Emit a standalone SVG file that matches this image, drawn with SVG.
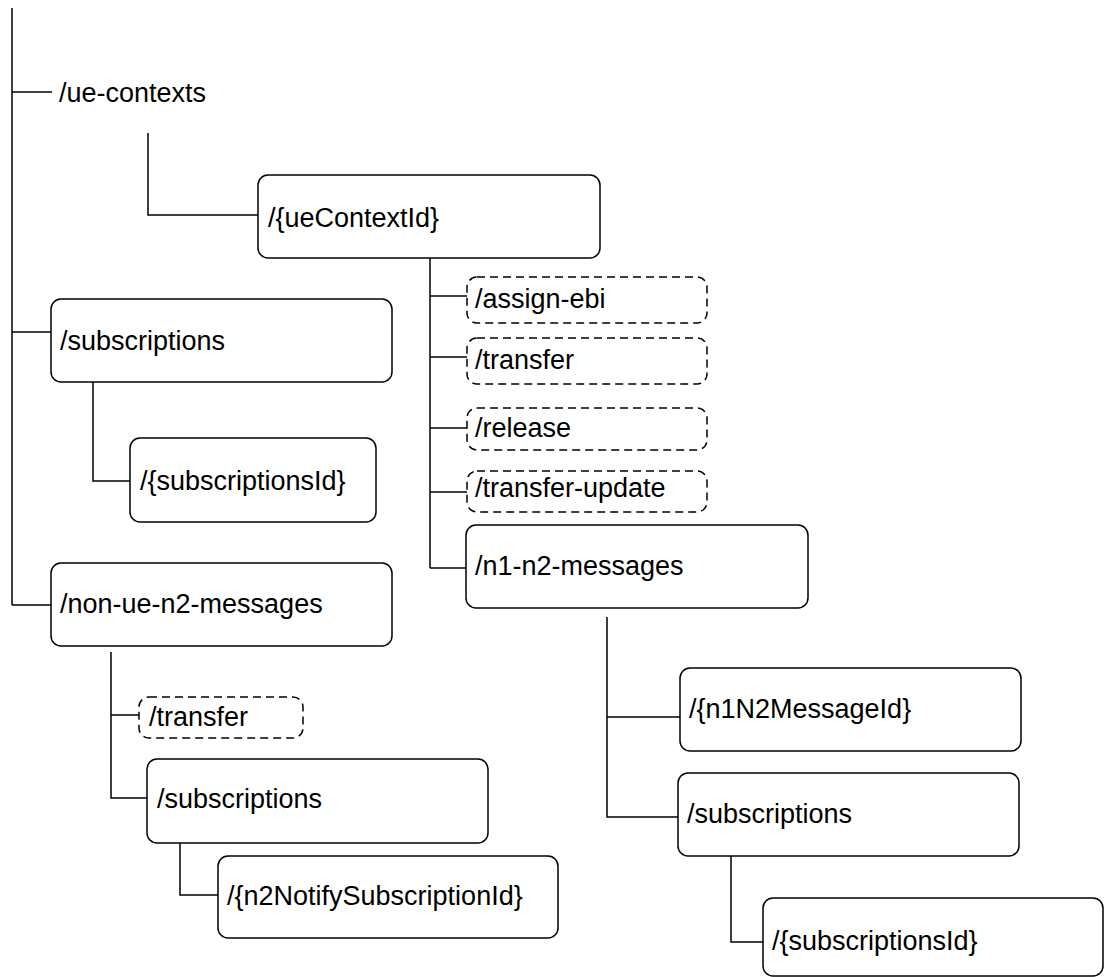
<svg xmlns="http://www.w3.org/2000/svg" width="1105" height="977" viewBox="0 0 1105 977">
<style>
.box{fill:#fff;stroke:#000;stroke-width:1.5}
.dash{fill:#fff;stroke:#000;stroke-width:1.5;stroke-dasharray:8,5}
.ln{fill:none;stroke:#000;stroke-width:1.5}
text{font-family:"Liberation Sans",Arial,sans-serif;font-size:27px;fill:#000}
</style>
<rect width="1105" height="977" fill="#fff"/>
<g id="connectors">
<path class="ln" d="M12 8 V605"/>
<path class="ln" d="M12 92 H52"/>
<path class="ln" d="M148 133 V215 H258"/>
<path class="ln" d="M430 258 V568"/>
<path class="ln" d="M430 296 H467"/>
<path class="ln" d="M430 357 H467"/>
<path class="ln" d="M430 428 H467"/>
<path class="ln" d="M430 492 H467"/>
<path class="ln" d="M430 568 H466"/>
<path class="ln" d="M12 332 H51"/>
<path class="ln" d="M93 377 V481 H130"/>
<path class="ln" d="M12 605 H51"/>
<path class="ln" d="M111 652 V798 H147"/>
<path class="ln" d="M111 715 H139"/>
<path class="ln" d="M180 843 V895 H218"/>
<path class="ln" d="M607 617 V817 H678"/>
<path class="ln" d="M607 717 H680"/>
<path class="ln" d="M731 856 V942 H763"/>
</g>
<g id="ue-contexts"><text x="59" y="102">/ue-contexts</text></g>
<g id="ueContextId"><rect class="box" x="258" y="175" width="342" height="83" rx="10"/><text x="268" y="227">/{ueContextId}</text></g>
<g id="assign-ebi"><rect class="dash" x="467" y="277" width="240" height="46" rx="10"/><text x="475" y="308">/assign-ebi</text></g>
<g id="transfer"><rect class="dash" x="467" y="338" width="240" height="46" rx="10"/><text x="475" y="369">/transfer</text></g>
<g id="release"><rect class="dash" x="467" y="408" width="240" height="42" rx="10"/><text x="475" y="437">/release</text></g>
<g id="transfer-update"><rect class="dash" x="467" y="471" width="240" height="41" rx="10"/><text x="475" y="497">/transfer-update</text></g>
<g id="n1-n2-messages"><rect class="box" x="466" y="525" width="342" height="83" rx="10"/><text x="475" y="575">/n1-n2-messages</text></g>
<g id="subscriptions"><rect class="box" x="51" y="299" width="341" height="83" rx="10"/><text x="60" y="350">/subscriptions</text></g>
<g id="subscriptionsId"><rect class="box" x="130" y="438" width="246" height="84" rx="10"/><text x="140" y="490">/{subscriptionsId}</text></g>
<g id="non-ue-n2-messages"><rect class="box" x="51" y="563" width="341" height="83" rx="10"/><text x="60" y="613">/non-ue-n2-messages</text></g>
<g id="non-ue-transfer"><rect class="dash" x="139" y="697" width="164" height="41" rx="10"/><text x="149" y="726">/transfer</text></g>
<g id="non-ue-subscriptions"><rect class="box" x="147" y="759" width="341" height="84" rx="10"/><text x="157" y="808">/subscriptions</text></g>
<g id="n2NotifySubscriptionId"><rect class="box" x="218" y="856" width="340" height="82" rx="10"/><text x="227" y="905">/{n2NotifySubscriptionId}</text></g>
<g id="n1N2MessageId"><rect class="box" x="680" y="668" width="341" height="83" rx="10"/><text x="689" y="718">/{n1N2MessageId}</text></g>
<g id="n1n2-subscriptions"><rect class="box" x="678" y="773" width="341" height="83" rx="10"/><text x="687" y="823">/subscriptions</text></g>
<g id="n1n2-subscriptionsId"><rect class="box" x="763" y="898" width="340" height="78" rx="10"/><text x="772" y="950">/{subscriptionsId}</text></g>
</svg>
